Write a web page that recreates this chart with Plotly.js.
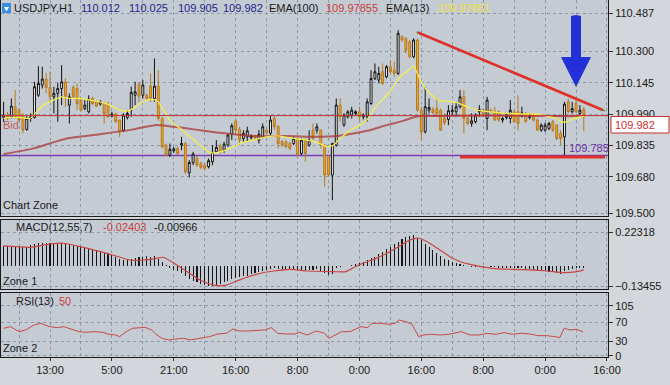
<!DOCTYPE html>
<html><head><meta charset="utf-8">
<script src="https://cdn.plot.ly/plotly-3.0.1.min.js"></script>
<style>html,body{margin:0;padding:0;background:#d3d6da;overflow:hidden}#chart{width:670px;height:385px}</style>
</head><body><div id="chart"></div>
<script>
const symbol = 'USDJPY,H1';
const open = [109.973,109.985,109.976,110.026,110.009,109.985,109.914,109.968,109.973,110.083,
110.133,110.163,110.121,110.075,110.092,110.116,110.149,110.034,110.121,110.116,
110.059,110.017,110.001,110.067,110.050,110.039,110.042,110.039,109.980,109.990,
109.960,109.910,109.973,110.009,110.083,110.138,110.083,110.083,110.128,110.067,
110.128,109.968,109.836,109.787,109.808,109.820,109.836,109.844,109.699,109.749,
109.770,109.745,109.737,109.729,109.754,109.803,109.831,109.811,109.836,109.890,
109.956,109.914,109.869,109.877,109.874,109.881,109.861,109.877,109.910,109.894,
109.968,109.927,109.853,109.853,109.844,109.844,109.869,109.795,109.861,109.836,
109.910,109.910,109.910,109.836,109.778,109.688,109.836,110.034,109.935,109.976,
109.985,109.993,110.001,109.976,109.976,110.042,110.166,110.158,110.199,110.174,
110.224,110.207,110.191,110.372,110.364,110.347,110.273,110.356,110.009,109.902,
110.009,110.013,110.017,110.009,109.968,109.963,110.001,110.001,110.026,110.075,
109.968,109.943,109.952,110.001,110.009,109.968,110.009,110.001,110.001,109.960,
109.973,109.968,110.001,110.001,109.980,109.993,109.973,109.985,109.960,109.910,
109.910,109.919,109.952,109.935,109.894,109.877,110.050,110.001,110.042,109.993,
110.012];
const high = [110.050,110.001,110.067,110.108,110.017,109.993,109.980,109.993,110.149,110.227,
110.224,110.194,110.199,110.125,110.144,110.232,110.166,110.092,110.133,110.141,
110.067,110.059,110.083,110.075,110.059,110.059,110.050,110.050,110.001,109.996,
109.963,109.993,110.009,110.125,110.149,110.149,110.158,110.092,110.191,110.265,
110.207,109.973,109.844,109.844,109.828,109.828,109.877,109.853,109.762,109.803,
109.782,109.754,109.745,109.770,109.836,109.861,109.844,109.853,109.894,109.943,
109.968,109.927,109.910,109.927,109.890,109.887,109.910,109.943,109.919,109.985,
109.985,109.935,109.861,109.861,109.853,109.877,109.877,109.869,109.869,109.910,
109.943,109.943,109.914,109.841,109.787,109.848,110.067,110.067,109.993,110.009,
110.026,110.009,110.026,109.993,110.067,110.207,110.240,110.224,110.240,110.232,
110.257,110.248,110.405,110.380,110.372,110.356,110.364,110.364,110.026,110.125,
110.067,110.026,110.067,110.017,109.993,110.034,110.034,110.050,110.108,110.108,
109.976,109.993,109.993,110.034,110.017,110.075,110.017,110.026,110.009,109.976,
109.993,110.059,110.009,110.083,110.026,110.001,109.993,109.993,109.968,109.943,
109.947,109.952,109.960,109.940,109.910,110.050,110.067,110.050,110.059,110.034,
110.025];
const low = [109.952,109.960,109.968,109.968,109.952,109.894,109.907,109.952,109.968,110.075,
110.116,110.092,110.050,109.993,109.952,110.034,110.026,109.943,110.067,110.009,
110.001,110.009,109.993,110.034,110.026,110.032,109.943,109.973,109.973,109.947,
109.877,109.902,109.963,109.976,110.034,110.050,110.067,110.059,110.050,110.050,
109.956,109.820,109.782,109.778,109.798,109.787,109.811,109.693,109.676,109.737,
109.729,109.716,109.712,109.721,109.737,109.798,109.792,109.798,109.828,109.861,
109.894,109.836,109.853,109.853,109.864,109.861,109.844,109.869,109.890,109.886,
109.910,109.820,109.828,109.820,109.811,109.836,109.778,109.787,109.754,109.828,
109.861,109.894,109.820,109.630,109.679,109.564,109.828,109.952,109.927,109.968,
109.968,109.985,109.960,109.963,109.952,110.034,110.158,110.141,110.133,110.166,
110.191,110.174,110.182,110.347,110.290,110.265,110.265,110.001,109.861,109.894,
109.993,109.990,109.976,109.907,109.935,109.935,109.985,109.976,110.017,109.894,
109.935,109.927,109.943,109.976,109.976,109.910,109.993,109.956,109.952,109.947,
109.963,109.943,109.947,109.910,109.973,109.947,109.963,109.952,109.907,109.902,
109.902,109.910,109.902,109.861,109.836,109.785,109.993,109.993,109.993,109.985,
109.905];
const close = [109.985,109.968,110.029,109.973,109.960,109.910,109.968,109.976,110.125,110.141,
110.163,110.121,110.075,110.092,110.116,110.149,110.075,110.075,110.075,110.042,
110.009,110.034,110.064,110.042,110.029,110.052,109.993,109.976,109.990,109.952,
109.902,109.985,109.993,110.097,110.100,110.078,110.133,110.067,110.067,110.128,
109.968,109.828,109.787,109.816,109.818,109.795,109.844,109.704,109.750,109.792,
109.737,109.726,109.721,109.759,109.800,109.825,109.803,109.841,109.886,109.932,
109.910,109.861,109.894,109.907,109.881,109.871,109.890,109.927,109.897,109.960,
109.927,109.844,109.836,109.828,109.820,109.869,109.787,109.861,109.795,109.861,
109.869,109.927,109.836,109.688,109.688,109.844,110.034,109.976,109.985,110.001,
110.009,110.001,109.976,109.985,110.050,110.166,110.199,110.191,110.141,110.224,
110.199,110.191,110.389,110.356,110.306,110.273,110.356,110.009,109.902,110.026,
110.022,109.996,109.993,109.910,109.947,110.006,110.009,110.026,110.075,109.968,
109.943,109.956,109.985,110.013,109.985,110.059,110.001,109.960,109.960,109.968,
109.983,110.009,109.952,109.943,109.996,109.952,109.983,109.960,109.910,109.935,
109.935,109.943,109.910,109.869,109.869,110.039,110.001,110.017,110.001,110.009,
109.982];

const ema13X = [0,1.7,4.2,6.8,8.6,10.3,12.9,15,17.2,19.8,22.3,24.9,27.5,30.1,31.8,33.5,35.3,37,38.7,40,41.3,43,45.6,48.2,50.8,53.4,56,58.6,61.1,64.6,68,71.5,74.9,78.4,81.8,83.6,85.3,87,89.6,92.2,93.9,95.6,97.4,99.9,102.5,104.2,106,106.8,107.7,109.4,111.2,112.9,114.6,117.2,119.8,122.3,125.8,130.1,134.4,137,140.4,143,144.3,145.6,147.4,150];
const ema13 = [109.968,109.973,109.973,109.968,110.001,110.034,110.059,110.075,110.067,110.067,110.059,110.050,110.034,110.009,110.004,110.017,110.042,110.059,110.062,110.050,110.009,109.960,109.919,109.877,109.836,109.798,109.803,109.820,109.844,109.861,109.877,109.881,109.869,109.861,109.844,109.828,109.836,109.869,109.910,109.935,109.960,110.009,110.050,110.100,110.174,110.199,110.227,110.199,110.158,110.108,110.075,110.055,110.054,110.046,110.026,110.009,110.001,109.993,109.990,109.990,109.980,109.968,109.950,109.952,109.968,109.979];
const ema100X = [0,7.7,16.3,24.9,33.5,39.1,43.9,50.8,56,64.6,73.2,81.8,86.1,90.4,94.7,99,103.3,105.9,107.7,112.8,120,130,140,150];
const ema100 = [109.792,109.820,109.869,109.890,109.914,109.935,109.927,109.910,109.897,109.881,109.881,109.877,109.881,109.894,109.910,109.935,109.956,109.973,109.980,109.980,109.982,109.983,109.980,109.979];

const macdHist = [0.135,0.133,0.130,0.132,0.128,0.125,0.130,0.140,
0.148,0.152,0.155,0.156,0.154,0.153,0.152,0.155,
0.150,0.145,0.140,0.135,0.128,0.120,0.115,0.110,0.104,
0.098,0.090,0.080,0.072,0.062,0.050,0.040,0.038,0.045,
0.055,0.060,0.062,0.065,0.062,0.065,0.050,0.025,
0.005,-0.010,-0.025,-0.035,-0.048,-0.065,-0.085,-0.098,-0.108,-0.118,-0.126,-0.131,-0.130,-0.126,-0.118,-0.108,-0.095,-0.086,-0.078,-0.072,-0.068,-0.062,-0.055,-0.048,-0.040,-0.032,-0.026,-0.020,-0.015,-0.020,-0.022,-0.024,-0.026,-0.025,-0.028,-0.026,-0.030,-0.026,-0.022,-0.020,-0.030,-0.045,-0.060,-0.050,
-0.012,-0.008,-0.002,0.002,0.006,0.012,0.020,0.030,0.040,0.052,0.063,0.078,0.095,0.112,0.128,0.145,0.162,0.180,0.195,0.202,
0.205,0.190,0.172,0.150,0.130,0.110,0.090,0.070,0.050,0.038,0.025,0.018,0.012,
0.005,-0.002,-0.006,-0.008,-0.005,-0.008,0.000,
-0.004,-0.008,-0.012,-0.013,-0.012,-0.010,-0.014,-0.015,-0.014,-0.018,
-0.020,-0.024,-0.030,-0.032,-0.034,-0.036,-0.040,-0.045,-0.050,-0.030,
-0.022,-0.018,-0.014,-0.012,-0.00966];
const signalX = [0,6.8,12,15.4,20.6,26.7,32.7,36.1,39.6,41.3,44.8,50.8,54.3,57.6,60.9,65.3,69.8,74.2,78.6,85.2,88.5,91.8,96.3,100.7,105.1,107.3,109.5,112.8,116.1,118.4,122.8,127.2,131.6,136,140.5,144.9,148.2,150];
const signal = [0.134,0.125,0.147,0.152,0.125,0.085,0.041,0.041,0.052,0.059,0.008,-0.092,-0.125,-0.125,-0.092,-0.054,-0.032,-0.021,-0.032,-0.036,-0.036,0.008,0.052,0.107,0.174,0.185,0.162,0.107,0.052,0.026,0.001,-0.016,-0.021,-0.025,-0.032,-0.043,-0.036,-0.024];

const rsiX = [0,1.8,4.0,5.7,7.9,9.6,11.8,14,15.6,17.3,19.5,21.2,23.4,25.6,27.2,28.9,30,31.7,33.3,35.5,36.6,38.3,39.4,41,42.7,44.4,46.6,48.2,50.4,53.2,55.4,57.6,59.3,60.9,63.1,65.3,67.5,69.2,70.9,73.1,75.3,76.4,78.6,80.8,83,84.1,85.8,87.4,89.6,92.4,94.1,95.2,97.4,99.6,101.2,102.3,104,105.6,107.3,108.4,110.6,112.8,115,117.2,118.4,120.6,122.8,125,127.2,129.4,131.6,133.8,136,138.2,140.4,142.7,143.8,144.9,146.5,148.2,149.8];
const rsi = [57.5,61,50.5,54,64.5,68,61,58.9,61,56.1,50.5,49.1,50.5,49.1,44.9,43.5,40,50.5,57.5,58.9,59.6,54,44.9,36.5,33,35.1,36.5,33,36.5,40,45.6,47,56.1,51.9,51.9,53.3,54,58.9,47,45.6,45.6,49.1,43.5,51.9,47,36.5,43.5,50.5,50.5,61,58.9,68,68,65.9,68,75,71.5,65.9,40,43.5,44.9,43.5,44.9,49.1,50.5,43.5,43.5,47,44.9,48.4,44.9,47,45.6,42.1,42.1,40,37.9,57.5,54,55.4,50];

const tickBars = [12,28,44,60,76,92,108,124,140,156];
const tickLabels = ['13:00','5:00','21:00','16:00','8:00','0:00','16:00','8:00','0:00','16:00'];
const priceTicks = [109.500,109.680,109.835,109.990,110.145,110.300,110.487];
const macdTicks = [-0.13455,0.22318];
const rsiTicks = [0,30,70,105];

const bidPrice = 109.982;
const supportLevel = 109.785;
const trendX = [106.8,155.5];
const trendY = [110.396,110.005];
const supportLineX = [118,155.5];
const supportLineY = [109.777,109.777];
const ema100Label = '109.97855';
const ema13Label = '109.97851';
const macdLabel = '-0.02403';
const histLabel = '-0.00966';
const rsiLabel = '50';

const barIndex = open.map((_, i) => i);

// page geometry helpers
const W = 670, H = 385, ML = 1, MR = 62, MT = 0, MB = 28;
const PW = W - ML - MR, PH = H - MT - MB;
const px = x => (x - ML) / PW;
const py = y => (PH + MT - y) / PH;

const FONT = 'Liberation Sans, Arial, sans-serif';
const GRID = '#8f9aa9';
const XR = [-0.67, 156.26];

function xAxis(show, anchor) {
  return {
    range: XR, anchor: anchor, showline: true, mirror: true, linecolor: '#1b1b1b', linewidth: 1,
    tickmode: 'array', tickvals: tickBars, ticktext: tickLabels, showticklabels: show,
    ticks: show ? 'outside' : '', ticklen: 3, tickcolor: '#333',
    showgrid: true, gridcolor: GRID, griddash: '3px,3px', gridwidth: 1, zeroline: false,
    minor: {tickmode: 'linear', tick0: 4, dtick: 8, showgrid: true, gridcolor: GRID, griddash: '3px,3px', ticks: ''},
    tickfont: {family: FONT, size: 11, color: '#1a1a1a'}, fixedrange: true
  };
}
function yAxis(domain, range, tickvals, fmt, anchor) {
  return {
    domain: domain, range: range, side: 'right', anchor: anchor,
    tickmode: 'array', tickvals: tickvals, tickformat: fmt,
    ticks: 'outside', ticklen: 4, tickcolor: '#333',
    showline: true, mirror: true, linecolor: '#1b1b1b', linewidth: 1,
    showgrid: true, gridcolor: GRID, griddash: '3px,3px', zeroline: false,
    tickfont: {family: FONT, size: 11, color: '#1a1a1a'}, fixedrange: true
  };
}

const traces = [
  {type: 'candlestick', x: barIndex, open: open, high: high, low: low, close: close,
   xaxis: 'x', yaxis: 'y', whiskerwidth: 0, hoverinfo: 'skip',
   increasing: {line: {color: '#111111', width: 1}, fillcolor: '#ffffff'},
   decreasing: {line: {color: '#b67b22', width: 1}, fillcolor: '#f3a52c'}},
  {type: 'scatter', mode: 'lines', x: ema100X, y: ema100, xaxis: 'x', yaxis: 'y',
   line: {color: 'rgba(170,55,55,0.75)', width: 2, shape: 'spline', smoothing: 0.6}, hoverinfo: 'skip'},
  {type: 'scatter', mode: 'lines', x: ema13X, y: ema13, xaxis: 'x', yaxis: 'y',
   line: {color: '#f4ef4c', width: 1.3, shape: 'spline', smoothing: 0.5}, hoverinfo: 'skip'},
  {type: 'scatter', mode: 'lines', x: trendX, y: trendY, xaxis: 'x', yaxis: 'y',
   line: {color: '#3aa040', width: 1.5}, hoverinfo: 'skip'},
  {type: 'scatter', mode: 'lines', x: [trendX[0] + 0.3, trendX[1] - 0.6], y: [trendY[0] - 0.0025, trendY[1] + 0.005], xaxis: 'x', yaxis: 'y',
   line: {color: '#e0302a', width: 2.6}, hoverinfo: 'skip'},
  {type: 'scatter', mode: 'lines', x: supportLineX, y: supportLineY, xaxis: 'x', yaxis: 'y',
   line: {color: '#e0302a', width: 3}, hoverinfo: 'skip'},
  {type: 'bar', x: barIndex, y: macdHist, xaxis: 'x2', yaxis: 'y2', width: 0.28,
   marker: {color: '#151515', line: {width: 0}}, hoverinfo: 'skip'},
  {type: 'scatter', mode: 'lines', x: signalX, y: signal, xaxis: 'x2', yaxis: 'y2',
   line: {color: '#c84646', width: 1.2, shape: 'spline', smoothing: 0.6}, hoverinfo: 'skip'},
  {type: 'scatter', mode: 'lines', x: rsiX, y: rsi, xaxis: 'x3', yaxis: 'y3',
   line: {color: '#c84848', width: 1}, hoverinfo: 'skip'}
];

function txt(s, x, y, color, size) {
  return {text: s, xref: 'paper', yref: 'paper', x: px(x), y: py(y), xanchor: 'left', yanchor: 'middle',
    showarrow: false, borderpad: 0, font: {family: FONT, size: size || 11, color: color || '#1a1a1a'}};
}
const last = open.length - 1;
const annotations = [
  txt(symbol, 13, 8),
  txt(open[last].toFixed(3), 80, 8, '#1f1f8a'),
  txt(high[last].toFixed(3), 128, 8, '#1f1f8a'),
  txt(low[last].toFixed(3), 177, 8, '#1f1f8a'),
  txt(close[last].toFixed(3), 222, 8, '#1f1f8a'),
  txt('EMA(100)', 268, 8),
  txt(ema100Label, 325, 8, '#c83c3c'),
  txt('EMA(13)', 385, 8),
  txt(ema13Label, 437, 8, '#ece43a'),
  txt('Bid', 2, 125, '#c85a5a'),
  txt('Chart Zone', 2, 205),
  txt('MACD(12,55,7)', 15, 227),
  txt(macdLabel, 102, 227, '#c83c3c'),
  txt(histLabel, 153, 227),
  txt('Zone 1', 2, 281),
  txt('RSI(13)', 15, 301),
  txt(rsiLabel, 58, 301, '#c83c3c'),
  txt('Zone 2', 2, 348),
  txt(supportLevel.toFixed(3), 568, 148, '#6a2ca8'),
  txt(bidPrice.toFixed(3), 614, 125, '#c83030')
];

const arrowPts = [[571,22],[571,16],[576,15],[581,16],[581,22],[581,57],[591,57],[576,87],[561,57],[571,57]];
const arrowPath = 'M ' + arrowPts.map(p => px(p[0]) + ',' + py(p[1])).join(' L ') + ' Z';
const iconPath = 'M ' + [[4,7],[9,7],[6.5,11.5]].map(p => px(p[0]) + ',' + py(p[1])).join(' L ') + ' Z';

const shapes = [
  {type: 'line', xref: 'paper', x0: 0, x1: 1, yref: 'y', y0: supportLevel, y1: supportLevel,
   line: {color: '#7b3ab4', width: 1.5}, layer: 'below'},
  {type: 'line', xref: 'paper', x0: 0, x1: 1, yref: 'y', y0: bidPrice, y1: bidPrice,
   line: {color: '#c43030', width: 1}, layer: 'above'},
  {type: 'path', xref: 'paper', yref: 'paper', path: arrowPath, fillcolor: '#2330d8', line: {width: 0}, layer: 'above'},
  {type: 'rect', xref: 'paper', yref: 'paper', x0: px(611), x1: px(669), y0: py(133), y1: py(116.5),
   fillcolor: '#ffffff', line: {color: '#c43030', width: 1}, layer: 'above'},
  {type: 'rect', xref: 'paper', yref: 'paper', x0: px(2), x1: px(11), y0: py(13), y1: py(3),
   fillcolor: '#3a8ede', line: {width: 0}, layer: 'above'},
  {type: 'path', xref: 'paper', yref: 'paper', path: iconPath, fillcolor: '#ffffff', line: {width: 0}, layer: 'above'}
];

const layout = {
  width: W, height: H, margin: {l: ML, r: MR, t: MT, b: MB, pad: 0},
  paper_bgcolor: '#d3d6da', plot_bgcolor: '#c5cbd3', showlegend: false,
  font: {family: FONT, size: 11, color: '#1a1a1a'},
  bargap: 0, boxgap: 0.3,
  xaxis: Object.assign(xAxis(false, 'y'), {rangeslider: {visible: false}}),
  xaxis2: Object.assign(xAxis(false, 'y2'), {matches: 'x'}),
  xaxis3: Object.assign(xAxis(true, 'y3'), {matches: 'x'}),
  yaxis: yAxis([py(215.5), 1], [109.488, 110.554], priceTicks, '.3f', 'x'),
  yaxis2: yAxis([py(289), py(219.5)], [-0.1511, 0.3093], macdTicks, '.5f', 'x2'),
  yaxis3: yAxis([0, py(292.5)], [-2.7, 132.7], rsiTicks, 'd', 'x3'),
  annotations: annotations, shapes: shapes
};

Plotly.newPlot('chart', traces, layout, {displayModeBar: false, staticPlot: true});
</script></body></html>
